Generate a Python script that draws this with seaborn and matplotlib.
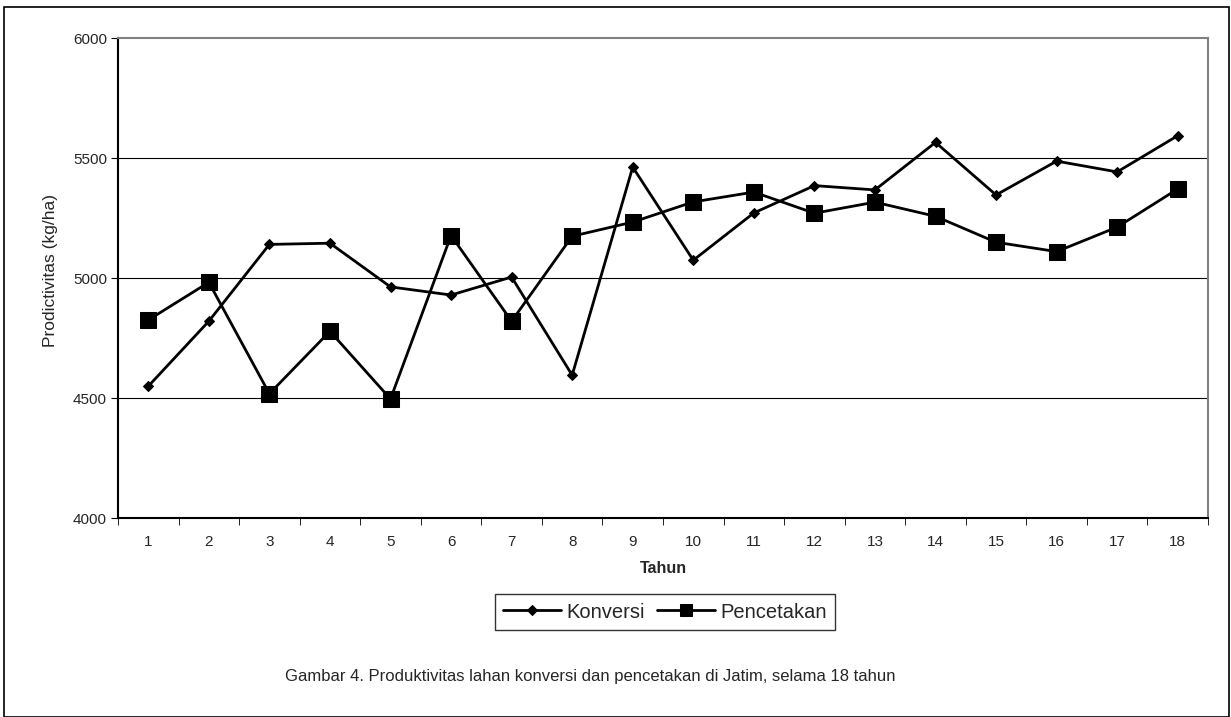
import numpy as np
import pandas as pd
import matplotlib.pyplot as plt
import seaborn as sns

# Data
tahun = list(range(1, 19))
konversi = [4549, 4820, 5140, 5145, 4963, 4929, 5004, 4595, 5462,
            5074, 5271, 5385, 5367, 5565, 5346, 5487, 5442, 5593]
pencetakan = [4825, 4982, 4518, 4778, 4496, 5177, 4820, 5174, 5233,
              5317, 5358, 5270, 5316, 5257, 5149, 5110, 5212, 5371]

sns.set_style("white")
plt.rcParams['font.family'] = ['Liberation Sans', 'DejaVu Sans']

fig = plt.figure(figsize=(12.31, 7.17), dpi=100)
ax = fig.add_axes([118 / 1231, 1 - 518 / 717, 1090 / 1231, 480 / 717])

# Outer frame round the whole chart
fig.patches.append(plt.Rectangle((4 / 1231, 0), 1225 / 1231, 1 - 7 / 717,
                                 transform=fig.transFigure, fill=False,
                                 edgecolor='black', linewidth=1.2))

sns.lineplot(x=tahun, y=konversi, ax=ax, color='black', linewidth=2,
             marker='D', markersize=5.5, markeredgecolor='black', label='Konversi')
sns.lineplot(x=tahun, y=pencetakan, ax=ax, color='black', linewidth=2,
             marker='s', markersize=12, markeredgecolor='black', label='Pencetakan')

ax.set_xlim(0.5, 18.5)
ax.set_ylim(4000, 6000)
ax.set_yticks([4000, 4500, 5000, 5500, 6000])
ax.set_xticks(tahun)
ax.set_xticks(np.arange(0.5, 19, 1), minor=True)
ax.tick_params(axis='x', which='major', length=0, labelsize=11, pad=12)
ax.tick_params(axis='x', which='minor', length=5, direction='out', color='black', bottom=True)
ax.tick_params(axis='y', length=5, direction='out', color='black', left=True, labelsize=11, pad=3)

for y in [4500, 5000, 5500]:
    ax.axhline(y, color='black', linewidth=0.8, zorder=0)

for side in ['left', 'bottom']:
    ax.spines[side].set_color('black')
    ax.spines[side].set_linewidth(1.5)
for side in ['top', 'right']:
    ax.spines[side].set_color('#808080')
    ax.spines[side].set_linewidth(1.5)

ax.set_xlabel('Tahun', fontsize=11.5, fontweight='bold', labelpad=9)
ax.set_ylabel('Prodictivitas (kg/ha)', fontsize=12.5)
ax.yaxis.set_label_coords(-0.055, 0.515)

leg = ax.legend(loc='center', bbox_to_anchor=(665 / 1231, 1 - 612 / 717),
                bbox_transform=fig.transFigure, ncol=2, frameon=True,
                fancybox=False, edgecolor='black', fontsize=14.5,
                handlelength=2.9, handletextpad=0.25, columnspacing=0.6,
                borderpad=0.4)
leg.get_frame().set_linewidth(1.0)
leg.legend_handles[0].set_markersize(5)
leg.legend_handles[1].set_markersize(9)

fig.text(590 / 1231, 1 - 676 / 717,
         'Gambar 4. Produktivitas lahan konversi dan pencetakan di Jatim, selama 18 tahun',
         ha='center', va='center', fontsize=12)

fig.savefig('out.png', dpi=100, facecolor='white')
